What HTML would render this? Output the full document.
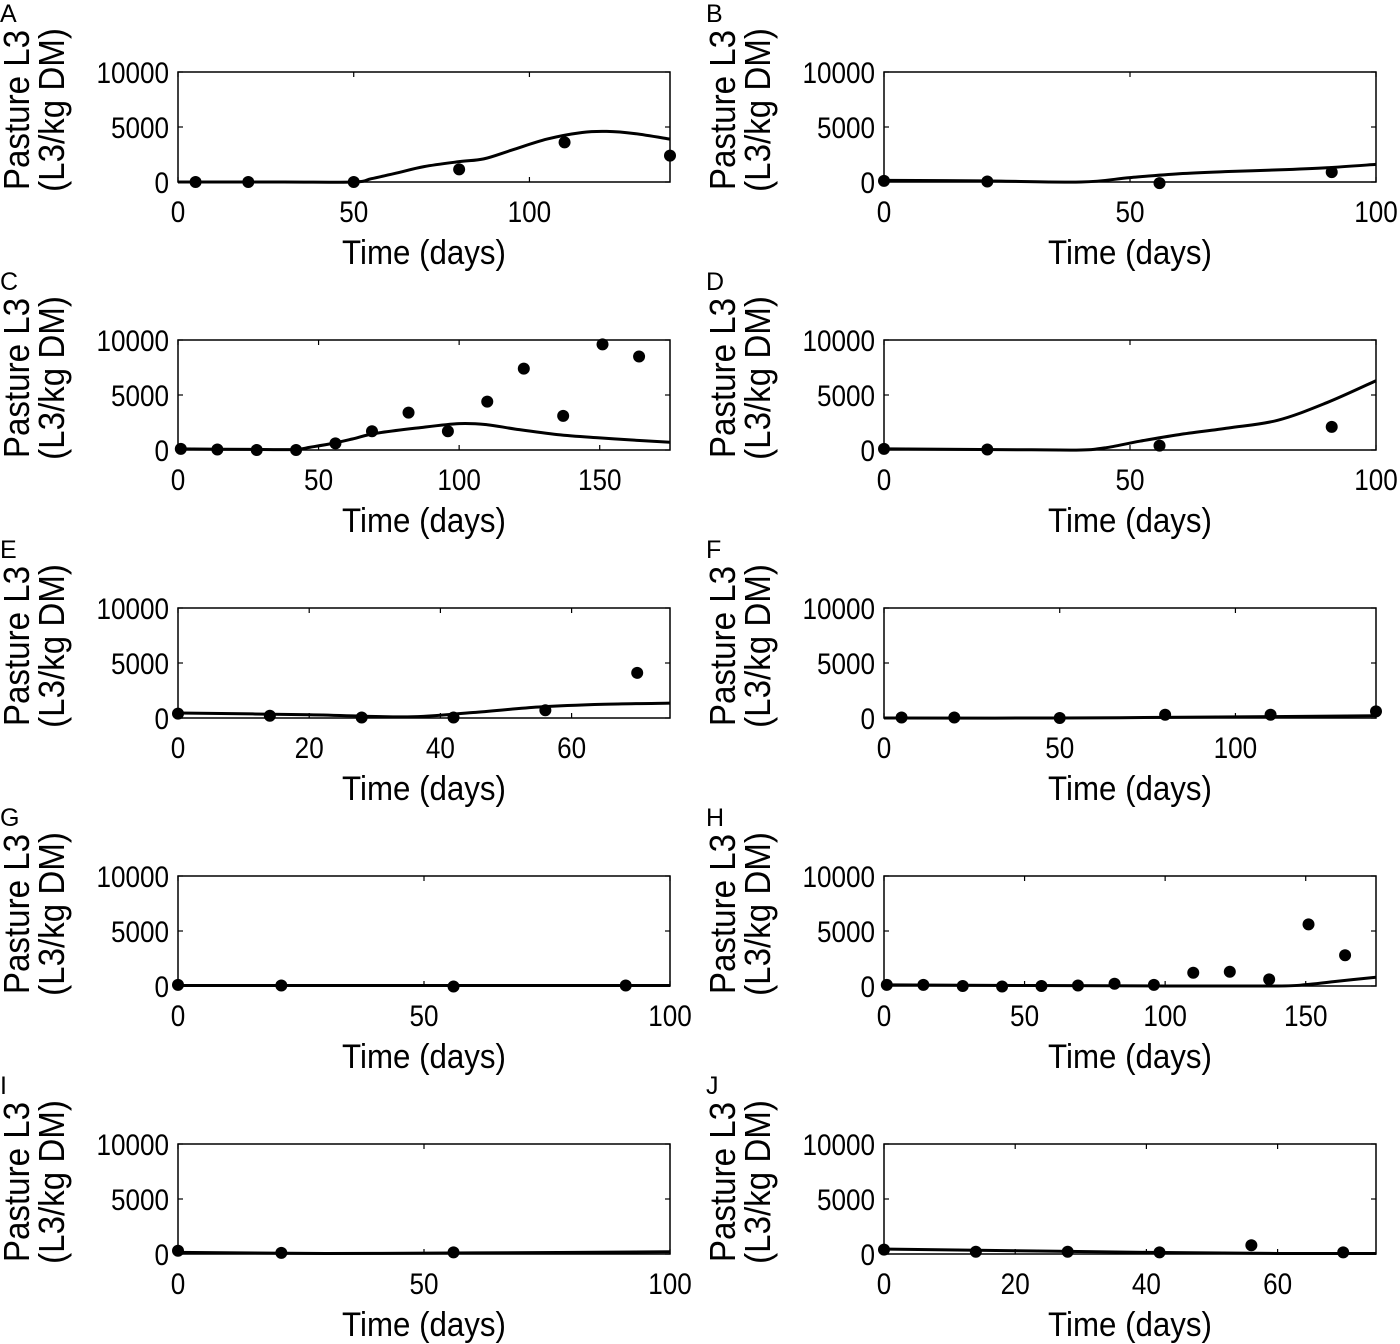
<!DOCTYPE html>
<html><head><meta charset="utf-8"><style>
body{margin:0;background:#fff;}
svg{display:block;font-family:"Liberation Sans",sans-serif;}
</style></head><body>
<svg id="fig" width="1400" height="1344" viewBox="0 0 1400 1344"></svg>
<script>
const panelLetters=["A","B","C","D","E","F","G","H","I","J"];
const xMax=[140,100,175,100,75,140,100,175,100,75];
const xTicks=[[0,50,100],[0,50,100],[0,50,100,150],[0,50,100],[0,20,40,60],[0,50,100],[0,50,100],[0,50,100,150],[0,50,100],[0,20,40,60]];
const yTicks=[0,5000,10000];
const obsX=[[5,20,50,80,110,140],[0,21,56,91],[1,14,28,42,56,69,82,96,110,123,137,151,164],[0,21,56,91],[0,14,28,42,56,70],[5,20,50,80,110,140],[0,21,56,91],[1,14,28,42,56,69,82,96,110,123,137,151,164],[0,21,56],[0,14,28,42,56,70]];
const obsY=[[0,0,0,1150,3600,2400],[100,50,-100,900],[100,50,0,0,600,1700,3400,1700,4400,7400,3100,9600,8500],[100,50,400,2100],[400,200,50,50,700,4100],[50,50,0,300,300,600],[100,50,-50,50],[100,100,0,-50,0,50,200,100,1200,1300,600,5600,2800],[300,100,150],[400,200,200,150,800,150]];
const modX=[[0,30,50,55,62,70,80,87,95,105,115,122,130,140],[0,20,40,50,60,70,80,90,100],[0,30,42,47,55,62,70,85,100,110,120,135,150,165,175],[0,30,40,45,52,60,70,80,90,100],[0,20,35,45,55,65,75],[0,50,100,140],[0,50,100],[0,100,140,150,160,175],[0,30,60,100],[0,20,40,60,75]];
const modY=[[0,0,0,300,800,1400,1850,2100,2900,3900,4500,4600,4400,3900],[150,100,0,400,750,950,1100,1300,1600],[100,50,50,250,600,1000,1500,2000,2400,2300,1900,1400,1100,850,700],[100,20,0,200,800,1400,2000,2700,4300,6300],[450,300,100,500,1000,1250,1350],[0,0,100,200],[50,50,50],[100,0,0,120,400,800],[150,50,100,200],[450,300,150,50,50]];

const NS="http://www.w3.org/2000/svg";
const svg=document.getElementById('fig');
function mk(tag,attrs,parent,txt){const e=document.createElementNS(NS,tag);for(const k in attrs)e.setAttribute(k,attrs[k]);if(txt!==undefined)e.textContent=txt;parent.appendChild(e);return e;}
function smooth(pts){let d="M"+pts[0][0]+","+pts[0][1];for(let i=0;i<pts.length-1;i++){const p0=pts[Math.max(0,i-1)],p1=pts[i],p2=pts[i+1],p3=pts[Math.min(pts.length-1,i+2)];const c1=[p1[0]+(p2[0]-p0[0])/6,p1[1]+(p2[1]-p0[1])/6],c2=[p2[0]-(p3[0]-p1[0])/6,p2[1]-(p3[1]-p1[1])/6];d+=" C"+c1[0]+","+c1[1]+" "+c2[0]+","+c2[1]+" "+p2[0]+","+p2[1];}return d;}

for(let p=0;p<10;p++){
  const col=p%2,row=Math.floor(p/2);
  const L=col?884:178,R=L+492,T=72+row*268,B=T+110;
  const xs=v=>L+v/xMax[p]*(R-L);
  const ys=v=>B-v/10000*(B-T);
  const g=mk('g',{},svg);
  
  
  const lt=mk('text',{x:col?706:0,y:T-50,'font-size':25,fill:'#000'},g,panelLetters[p]);
  
  
  const yl=mk('text',{transform:`translate(${col?735:29},${T+38}) rotate(-90) scale(0.92,1)`,'text-anchor':'middle','font-size':36,fill:'#000'},g);
  
  
  mk('tspan',{x:0,y:0},yl,'Pasture L3');
  mk('tspan',{x:0,y:35},yl,'(L3/kg DM)');
  const xl=mk('text',{transform:`translate(${(L+R)/2},${B+82}) scale(0.92,1)`,'text-anchor':'middle','font-size':34,fill:'#000'},g,'Time (days)');
  
  
  const frame=mk('rect',{x:L,y:T,width:R-L,height:B-T,fill:'none',stroke:'#000','stroke-width':1.5},g);
  
  
  yTicks.forEach(v=>{const y=ys(v);
    const t=mk('text',{transform:`translate(${L-9},${y+11}) scale(0.87,1)`,'text-anchor':'end','font-size':30,fill:'#000'},g,String(v));
    
    
    mk('line',{x1:L,x2:L+5,y1:y,y2:y,stroke:'#000','stroke-width':1.2},g);
    mk('line',{x1:R,x2:R-5,y1:y,y2:y,stroke:'#000','stroke-width':1.2},g);});
  xTicks[p].forEach(v=>{const x=xs(v);
    const t=mk('text',{transform:`translate(${x},${B+40}) scale(0.87,1)`,'text-anchor':'middle','font-size':30,fill:'#000'},g,String(v));
    
    
    mk('line',{x1:x,x2:x,y1:B,y2:B-5,stroke:'#000','stroke-width':1.2},g);
    mk('line',{x1:x,x2:x,y1:T,y2:T+5,stroke:'#000','stroke-width':1.2},g);});
  const pts=modX[p].map((x,i)=>[xs(x),ys(modY[p][i])]);
  const line=mk('path',{d:smooth(pts),fill:'none',stroke:'#000','stroke-width':3},g);
  
  
  obsX[p].forEach((x,i)=>{const c=mk('circle',{cx:xs(x),cy:ys(obsY[p][i]),r:6,fill:'#000'},g);
    
    });
}
</script>
</body></html>
